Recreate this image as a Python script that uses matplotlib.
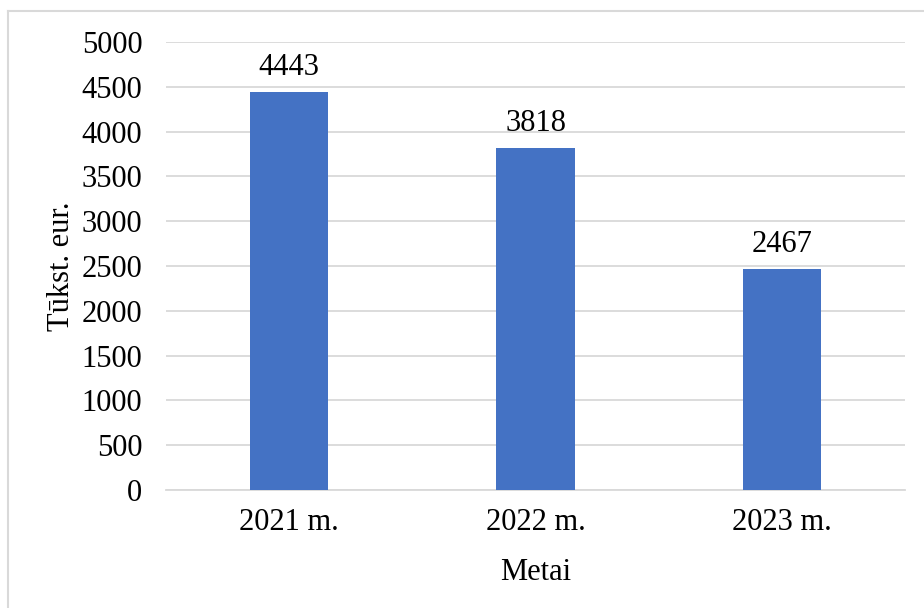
import matplotlib.pyplot as plt
from matplotlib.lines import Line2D

plt.rcParams['font.family'] = ['Liberation Serif', 'DejaVu Serif']

# DATA
years = ['2021 m.', '2022 m.', '2023 m.']
values = [4443, 3818, 2467]
y_ticks = [0, 500, 1000, 1500, 2000, 2500, 3000, 3500, 4000, 4500, 5000]

bar_color = '#4472C4'
grid_color = '#D9D9D9'
fs = 22

fig = plt.figure(figsize=(9.24, 6.08), dpi=100)
ax = fig.add_axes([0.1797, 0.194, 0.7997, 0.737])

x = list(range(len(years)))
bars = ax.bar(x, values, width=0.317, color=bar_color, zorder=3)
for xi, v in zip(x, values):
    ax.text(xi, v + 110, str(v), ha='center', va='bottom', fontsize=fs)

ax.set_xlim(-0.5, len(years) - 0.5)
ax.set_ylim(0, 5000)
ax.set_yticks(y_ticks)
ax.set_yticklabels([str(t) for t in y_ticks], fontsize=fs)
ax.set_xticks(x)
ax.set_xticklabels(years, fontsize=fs)
ax.tick_params(length=0)
ax.tick_params(axis='y', pad=17)
ax.tick_params(axis='x', pad=13)

ax.yaxis.grid(True, color=grid_color, linewidth=1.3, zorder=0)
for s in ['top', 'right', 'left']:
    ax.spines[s].set_visible(False)
ax.spines['bottom'].set_color(grid_color)
ax.spines['bottom'].set_linewidth(1.3)

ax.set_xlabel('Metai', fontsize=fs, labelpad=15)
ax.set_ylabel('Tūkst. eur.', fontsize=fs, labelpad=4)

# thin frame around the chart (only top and left edges fall inside)
fig.add_artist(Line2D([8 / 924, 8 / 924], [0, 1 - 11 / 608], transform=fig.transFigure,
                      color=grid_color, linewidth=1.5))
fig.add_artist(Line2D([8 / 924, 1], [1 - 11 / 608, 1 - 11 / 608], transform=fig.transFigure,
                      color=grid_color, linewidth=1.5))

fig.savefig('out.png', dpi=100)
